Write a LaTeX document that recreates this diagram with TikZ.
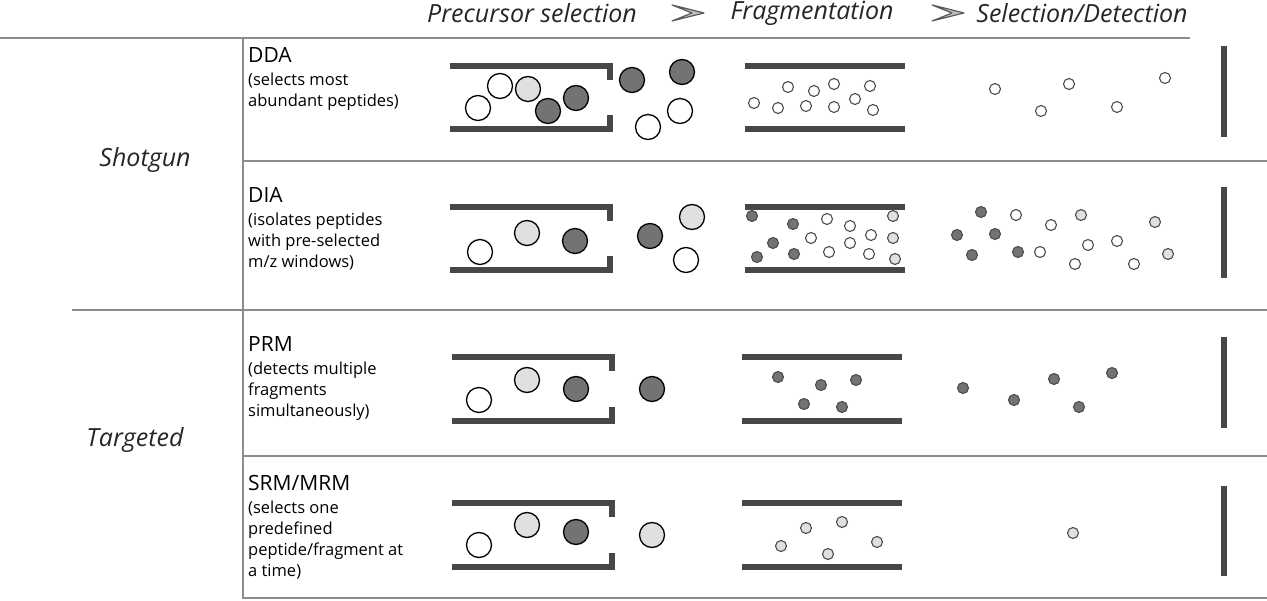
\documentclass[tikz,border=0pt]{standalone}
\usepackage{fontspec}
\setmainfont{Open Sans}
\begin{document}
\begin{tikzpicture}[x=1pt,y=-1pt,
 grid/.style={draw=black!45,line width=1.5pt},
 bar/.style={draw=black!72,line width=6pt},
 big/.style={circle,draw=black,line width=1.3pt,minimum size=25pt,inner sep=0pt},
 sm/.style={circle,draw=black!70,line width=1.1pt,minimum size=11pt,inner sep=0pt},
 W/.style={fill=white}, L/.style={fill=black!12}, D/.style={fill=black!55},
 hdr/.style={font=\itshape\fontsize{25}{28}\selectfont,text=black!85},
 lab/.style={font=\fontsize{21}{24}\selectfont,anchor=north west,inner sep=0pt},
 sub/.style={font=\fontsize{16.5}{21}\selectfont,anchor=north west,inner sep=0pt,align=left}]
\useasboundingbox (0,0) rectangle (1267,601);
% grid
\draw[grid] (0,38) -- (1190,38);
\draw[grid] (243,38) -- (243,598) -- (1267,598);
\draw[grid] (243,161) -- (1267,161);
\draw[grid] (72,310) -- (1267,310);
\draw[grid] (243,456) -- (1267,456);
% headers
\node[hdr] (h1) at (532,13) {Precursor selection};
\node[hdr] (h2) at (812,13) {Fragmentation};
\node[hdr] (h3) at (1082,13) {Selection/Detection};
\foreach \ax in {688,948}
 \draw[draw=black!65,fill=black!25,line width=1.2pt,line join=round] (\ax-16,5) -- (\ax+16,13) -- (\ax-16,21) -- (\ax+4,13) -- cycle;
\node[hdr] (sg) at (145,160) {Shotgun};
\node[hdr] (tg) at (135,440) {Targeted};
% row labels
\node[lab] (l1) at (248,47) {DDA};
\node[sub] (s1) at (248,73) {(selects most\\abundant peptides)};
\node[lab] (l2) at (248,187) {DIA};
\node[sub] (s2) at (248,213) {(isolates peptides\\with pre-selected\\m/z windows)};
\node[lab] (l3) at (248,336) {PRM};
\node[sub] (s3) at (248,362) {(detects multiple\\fragments\\simultaneously)};
\node[lab] (l4) at (248,475) {SRM/MRM};
\node[sub] (s4) at (248,501) {(selects one\\predefined\\peptide/fragment at\\a time)};
% tubes
\foreach \xa/\ya/\yb in {450/66/129,450/207/270,452/357/421,452/503/567}{
 \draw[bar] (\xa,\ya) -- (\xa+160,\ya) -- (\xa+160,\ya+14);
 \draw[bar] (\xa,\yb) -- (\xa+160,\yb) -- (\xa+160,\yb-14);}
\foreach \xa/\ya/\yb in {745/66/129,745/207/270,742/357/421,742/503/567}{
 \draw[bar] (\xa,\ya) -- (\xa+160,\ya);
 \draw[bar] (\xa,\yb) -- (\xa+160,\yb);}
\foreach \ya/\yb in {46/137,187/278,337/428,486/576}
 \draw[bar] (1224,\ya) -- (1224,\yb);
% big circles
\foreach \s/\x/\y [count=\i] in {W/478/108,W/500/86,L/528/89,D/548/111,D/576/98,D/632/80,D/682/72,W/680/111,W/648/127,
 W/480/252,L/527/233,D/575/241,D/650/236,L/692/217,W/686/260,
 W/479/400,L/527/380,D/576/389,D/652/389,
 W/479/545,L/527/525,D/576/532,L/652/535}
 \node[big,\s] (b\i) at (\x,\y) {};
% small circles
\foreach \s/\x/\y [count=\i] in {W/788/87,W/814/91,W/834/84,W/870/86,W/754/103,W/778/108,W/806/106,W/834/107,W/855/99,W/873/110,
 W/995/89,W/1041/111,W/1069/84,W/1117/107,W/1165/78,
 D/752/216,D/793/224,D/773/243,D/757/257,D/794/254,W/827/219,W/850/226,W/811/238,W/850/243,W/829/252,W/871/235,W/869/254,L/893/216,L/893/238,L/895/259,
 D/981/212,D/957/235,D/995/234,D/972/255,D/1018/252,W/1016/215,W/1051/225,L/1081/215,W/1040/252,W/1088/245,W/1075/264,W/1117/241,W/1134/264,L/1155/222,L/1168/254,
 D/778/377,D/821/385,D/856/380,D/804/404,D/842/407,
 D/963/388,D/1014/400,D/1054/379,D/1079/407,D/1112/373,
 L/806/528,L/842/522,L/781/546,L/828/554,L/877/542,L/1073/533}
 \node[sm,\s] (c\i) at (\x,\y) {};
\end{tikzpicture}
\end{document}
